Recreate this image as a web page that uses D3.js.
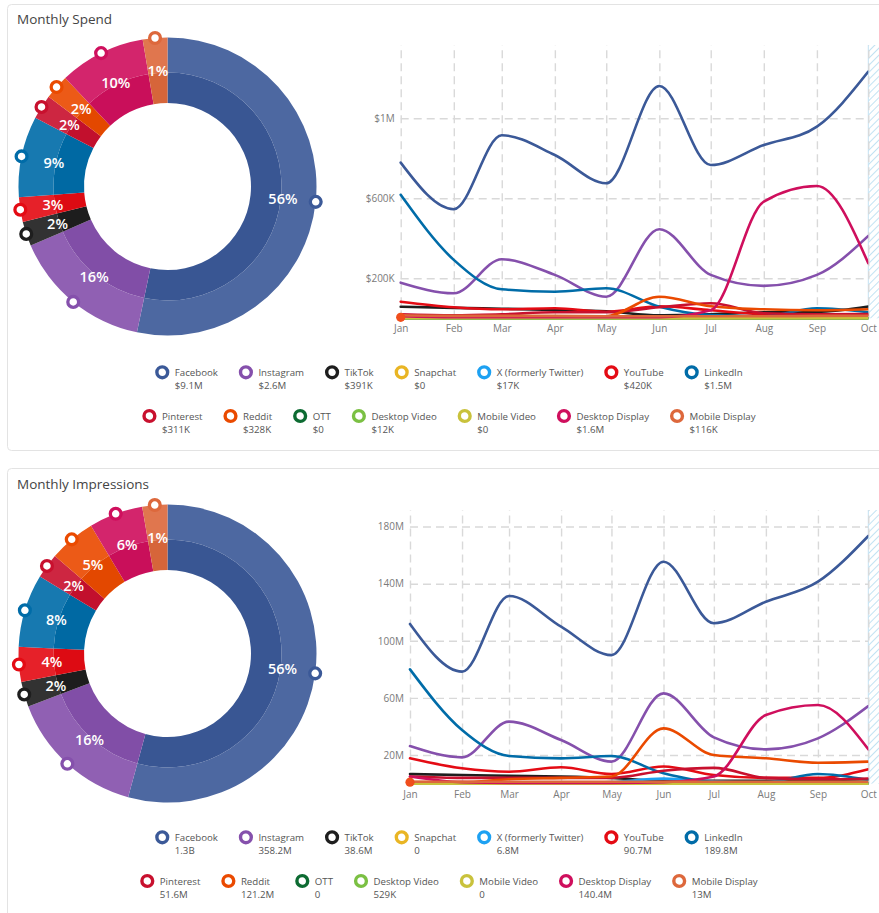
<!DOCTYPE html>
<html><head><meta charset="utf-8">
<script src="https://cdn.jsdelivr.net/npm/d3@7/dist/d3.min.js"></script>
<style>
body{margin:0;background:#fff;font-family:"Open Sans",sans-serif;}
svg{display:block}
</style></head><body>
<svg id="c" width="879" height="913"></svg>
<script>
// ---------- DATA ----------
const channels = ["Facebook","Instagram","TikTok","Snapchat","X (formerly Twitter)","YouTube","LinkedIn","Pinterest","Reddit","OTT","Desktop Video","Mobile Video","Desktop Display","Mobile Display"];
const months = ["Jan","Feb","Mar","Apr","May","Jun","Jul","Aug","Sep","Oct"];

// totals (legend values)
const spendTotals = [9.1e6, 2.6e6, 391e3, 0, 17e3, 420e3, 1.5e6, 311e3, 328e3, 0, 12e3, 0, 1.6e6, 116e3];
const impressionTotals = [1.3e9, 358.2e6, 38.6e6, 0, 6.8e6, 90.7e6, 189.8e6, 51.6e6, 121.2e6, 0, 529e3, 0, 140.4e6, 13e6];

// monthly spend ($K)
const spendFacebook       = [778,545,915,816,675,1161,766,866,958,1233];
const spendInstagram      = [178,125,295,217,108,445,217,162,217,412];
const spendTikTok         = [58,52,48,42,35,15,20,30,32,59];
const spendSnapchat       = [0,0,0,0,0,0,0,0,0,0];
const spendX              = [0,0,0,0,2,8,4,1,1,1];
const spendYouTube        = [83,55,45,50,33,60,40,20,17,17];
const spendLinkedIn       = [617,292,145,133,150,58,16,10,50,30];
const spendPinterest      = [20,15,20,30,30,55,75,25,20,21];
const spendReddit         = [5,5,5,5,10,108,60,45,40,45];
const spendOTT            = [0,0,0,0,0,0,0,0,0,0];
const spendDesktopVideo   = [1,1,1,1,1,2,2,1,1,1];
const spendMobileVideo    = [0,0,0,0,0,0,0,0,0,0];
const spendDesktopDisplay = [10,5,5,5,5,5,40,583,661,275];
const spendMobileDisplay  = [15,12,12,12,10,10,10,10,12,13];

// monthly impressions (M)
const impFacebook       = [111.8,78.4,131.4,109.9,90,155.4,112.3,127.4,141.4,173.4];
const impInstagram      = [26.3,18.4,43.4,30.5,15.4,63.2,32.4,24,31.7,54.3];
const impTikTok         = [6.7,6,5.5,5,4,2,2,2,2.5,3];
const impSnapchat       = [0,0,0,0,0,0,0,0,0,0];
const impX              = [0,0,0,0,1,3.5,1.5,0.4,0.2,0.2];
const impYouTube        = [17.7,10.7,8.3,11.4,6.7,12,6,4,4,10];
const impLinkedIn       = [80,37.5,19.3,17.7,19.3,7.2,1.3,1,6.7,2.5];
const impPinterest      = [5,4,4,4,4,9,11,4,3,3.6];
const impReddit         = [1,1,3,4,5,38.7,20,17.7,14.6,15.4];
const impOTT            = [0,0,0,0,0,0,0,0,0,0];
const impDesktopVideo   = [0.05,0.05,0.05,0.05,0.05,0.06,0.06,0.05,0.05,0.05];
const impMobileVideo    = [0,0,0,0,0,0,0,0,0,0];
const impDesktopDisplay = [5,1,0.5,0.5,0.5,1,5,48,55,24];
const impMobileDisplay  = [1.3,1.3,1.3,1.3,1.3,1.3,1.3,1.3,1.3,1.3];

const spendTicks = [200,600,1000];      // $K
const impressionTicks = [20,60,100,140,180]; // M

// ---------- STYLE ----------
const colors = ["#3b5998","#8550ac","#1e1e1e","#e9b524","#1da1f2","#e40b14","#006ca8","#c8102e","#ea4a00","#0d6b32","#7bc043","#c9c23c","#cf0f5d","#dd683c"];

const spendSeries = [spendFacebook,spendInstagram,spendTikTok,spendSnapchat,spendX,spendYouTube,spendLinkedIn,spendPinterest,spendReddit,spendOTT,spendDesktopVideo,spendMobileVideo,spendDesktopDisplay,spendMobileDisplay];
const impSeries = [impFacebook,impInstagram,impTikTok,impSnapchat,impX,impYouTube,impLinkedIn,impPinterest,impReddit,impOTT,impDesktopVideo,impMobileVideo,impDesktopDisplay,impMobileDisplay];

const svg = d3.select("#c");
const dates = months.map((m,i)=>new Date(2023,i,1));

// hatch pattern
const defs = svg.append("defs");
const pat = defs.append("pattern").attr("id","hatch").attr("patternUnits","userSpaceOnUse")
  .attr("width",5).attr("height",5).attr("patternTransform","rotate(45)");
pat.append("line").attr("x1",0).attr("y1",0).attr("x2",0).attr("y2",5)
  .attr("stroke","#a8d5ec").attr("stroke-width",1.4);

function fmtAbbrev(v, prefix){
  if (v === 0) return prefix + "0";
  let s, u;
  if (v >= 1e9){ s = v/1e9; u="B"; }
  else if (v >= 1e6){ s = v/1e6; u="M"; }
  else if (v >= 1e3){ s = v/1e3; u="K"; }
  else { s = v; u=""; }
  let str = (Math.round(s*10)/10).toFixed(1).replace(/\.0$/,"");
  return prefix + str + u;
}

function drawPanel(cfg){
  const g = svg.append("g");
  // panel border
  g.append("rect").attr("x",7.5).attr("y",cfg.panelY).attr("width",900).attr("height",cfg.panelH)
    .attr("rx",4).attr("fill","#fff").attr("stroke","#e3e3e3").attr("stroke-width",1);
  g.append("text").attr("x",17).attr("y",cfg.titleY).attr("font-size",13.5).attr("fill","#444")
    .text(cfg.title);

  // ---- donut ----
  const total = d3.sum(cfg.totals);
  const items = cfg.totals.map((v,i)=>({i, v, pct: v/total*100}))
    .filter(d=>Math.round(d.pct) > 0);
  const minA = cfg.minAngle;
  const small = items.filter(d=>d.pct/100*360 < minA);
  const big = items.filter(d=>d.pct/100*360 >= minA);
  const rest = 360 - small.length*minA;
  const bigSum = d3.sum(big, d=>d.v);
  items.forEach(d=>{ d.ang = (d.pct/100*360 < minA) ? minA : d.v/bigSum*rest; });
  const pie = d3.pie().sort(null).value(d=>d.ang);
  const arcs = pie(items);
  const rIn = 83.5, rMid = 114, rOut = 149;
  const arcInner = d3.arc().innerRadius(rIn).outerRadius(rMid);
  const arcOuter = d3.arc().innerRadius(rMid).outerRadius(rOut);
  const dg = g.append("g").attr("transform",`translate(${cfg.cx},${cfg.cy})`);
  dg.selectAll("path.o").data(arcs).join("path").attr("class","o")
    .attr("d",arcOuter).attr("fill",d=>d3.interpolateRgb(colors[d.data.i],"#fff")(0.09));
  dg.selectAll("path.i").data(arcs).join("path").attr("class","i")
    .attr("d",arcInner).attr("fill",d=>d3.interpolateRgb(colors[d.data.i],"#000")(0.03));
  const lab = d3.arc().innerRadius(116).outerRadius(116);
  dg.selectAll("text.p").data(arcs).join("text").attr("class","p")
    .attr("transform",d=>`translate(${lab.centroid(d)})`)
    .attr("text-anchor","middle").attr("dy","0.36em")
    .attr("font-size",14.5).attr("font-weight",600).attr("fill","#fff")
    .text(d=>Math.round(d.data.pct)+"%");
  const mk = d3.arc().innerRadius(rOut).outerRadius(rOut);
  dg.selectAll("circle.m").data(arcs).join("circle").attr("class","m")
    .attr("transform",d=>`translate(${mk.centroid(d)})`)
    .attr("r",5.4).attr("fill","#fff").attr("stroke",d=>colors[d.data.i]).attr("stroke-width",3.3);

  // ---- line chart ----
  const x = d3.scaleTime().domain([dates[0],dates[dates.length-1]]).range([cfg.x0,cfg.x1]);
  const y = d3.scaleLinear().domain([0,cfg.yMax]).range([cfg.yBottom,cfg.yTop]);
  const W = cfg.x1-cfg.x0, H = cfg.yBottom-cfg.yTop;

  // hatch area
  g.append("rect").attr("x",cfg.x1).attr("y",cfg.yTop).attr("width",20).attr("height",H)
    .attr("fill","url(#hatch)");
  g.append("line").attr("x1",cfg.x1).attr("x2",cfg.x1).attr("y1",cfg.yTop).attr("y2",cfg.yBottom)
    .attr("stroke","#c3e2f2").attr("stroke-width",1);

  const ya = g.append("g").attr("transform",`translate(${cfg.x0},0)`)
    .call(d3.axisLeft(y).tickValues(cfg.ticks).tickFormat(cfg.tickFmt).tickSize(-W).tickPadding(6));
  ya.select(".domain").remove();
  ya.selectAll("line").attr("stroke","#d9d9d9").attr("stroke-width",1.4).attr("stroke-dasharray","8,5");
  ya.selectAll("text").attr("fill","#7a7a7a").attr("font-size",10).attr("font-family","Open Sans");

  const xa = g.append("g").attr("transform",`translate(0,${cfg.yBottom})`)
    .call(d3.axisBottom(x).tickValues(dates).tickFormat(d3.timeFormat("%b")).tickSize(-H).tickPadding(7));
  xa.select(".domain").remove();
  xa.selectAll("line").attr("stroke","#d9d9d9").attr("stroke-width",1.4).attr("stroke-dasharray","8,5");
  xa.selectAll("text").attr("fill","#7a7a7a").attr("font-size",10).attr("font-family","Open Sans");

  const clipId = "clip"+cfg.id;
  defs.append("clipPath").attr("id",clipId).append("rect")
    .attr("x",cfg.x0-4).attr("y",cfg.yTop-4).attr("width",W+4).attr("height",H+8);
  const line = d3.line().x((d,i)=>x(dates[i])).y(d=>y(d)).curve(d3.curveMonotoneX);
  const lg = g.append("g").attr("clip-path",`url(#${clipId})`);
  cfg.series.forEach((s,i)=>{
    lg.append("path").attr("d",line(s)).attr("fill","none")
      .attr("stroke",colors[i]).attr("stroke-width",2.6).attr("stroke-linejoin","round").attr("stroke-linecap","round");
  });
  // highlighted point (Reddit, Jan)
  g.append("circle").attr("cx",x(dates[0])).attr("cy",y(cfg.series[8][0])).attr("r",4.6)
    .attr("fill","#f04e1c");

  // ---- legend ----
  const rows = [[0,1,2,3,4,5,6],[7,8,9,10,11,12,13]];
  rows.forEach((row,ri)=>{
    const cyL = cfg.legendY[ri];
    const rg = g.append("g");
    let cur = 0;
    const positions = [];
    row.forEach(idx=>{
      const ig = rg.append("g");
      ig.append("circle").attr("cx",0).attr("cy",cyL).attr("r",5.4).attr("fill","#fff")
        .attr("stroke",colors[idx]).attr("stroke-width",3.4);
      const t1 = ig.append("text").attr("x",12.5).attr("y",cyL+3.5).attr("font-size",9.7).attr("fill","#555").text(channels[idx]);
      const t2 = ig.append("text").attr("x",12.5).attr("y",cyL+16.5).attr("font-size",9.7).attr("fill","#555")
        .text(fmtAbbrev(cfg.totals[idx], cfg.prefix));
      const w = Math.max(t1.node().getComputedTextLength(), t2.node().getComputedTextLength());
      positions.push({ig, x:cur});
      cur += 12.5 + w + 28;
    });
    const rowW = cur - 28 + 7; // from circle left edge to last text end
    const start = 449 - rowW/2 + 7;
    positions.forEach(p=>p.ig.attr("transform",`translate(${start+p.x},0)`));
  });
}

drawPanel({
  id:"s", title:"Monthly Spend", panelY:4.5, panelH:446, titleY:23.5,
  totals: spendTotals, prefix:"$", minAngle:9.6,
  cx:167.5, cy:186.5,
  x0:400.7, x1:868.3, yTop:45, yBottom:318.3, yMax:1366,
  ticks: spendTicks, tickFmt: v=> v>=1000 ? "$"+(v/1000)+"M" : "$"+v+"K",
  series: spendSeries, legendY:[372.3,416]
});
drawPanel({
  id:"i", title:"Monthly Impressions", panelY:468.5, panelH:460, titleY:488.5,
  totals: impressionTotals, prefix:"", minAngle:9.8,
  cx:167.5, cy:653.5,
  x0:410, x1:868.3, yTop:510, yBottom:783.6, yMax:191.6,
  ticks: impressionTicks, tickFmt: v=> v+"M",
  series: impSeries, legendY:[837.3,881]
});
</script>
</body></html>
